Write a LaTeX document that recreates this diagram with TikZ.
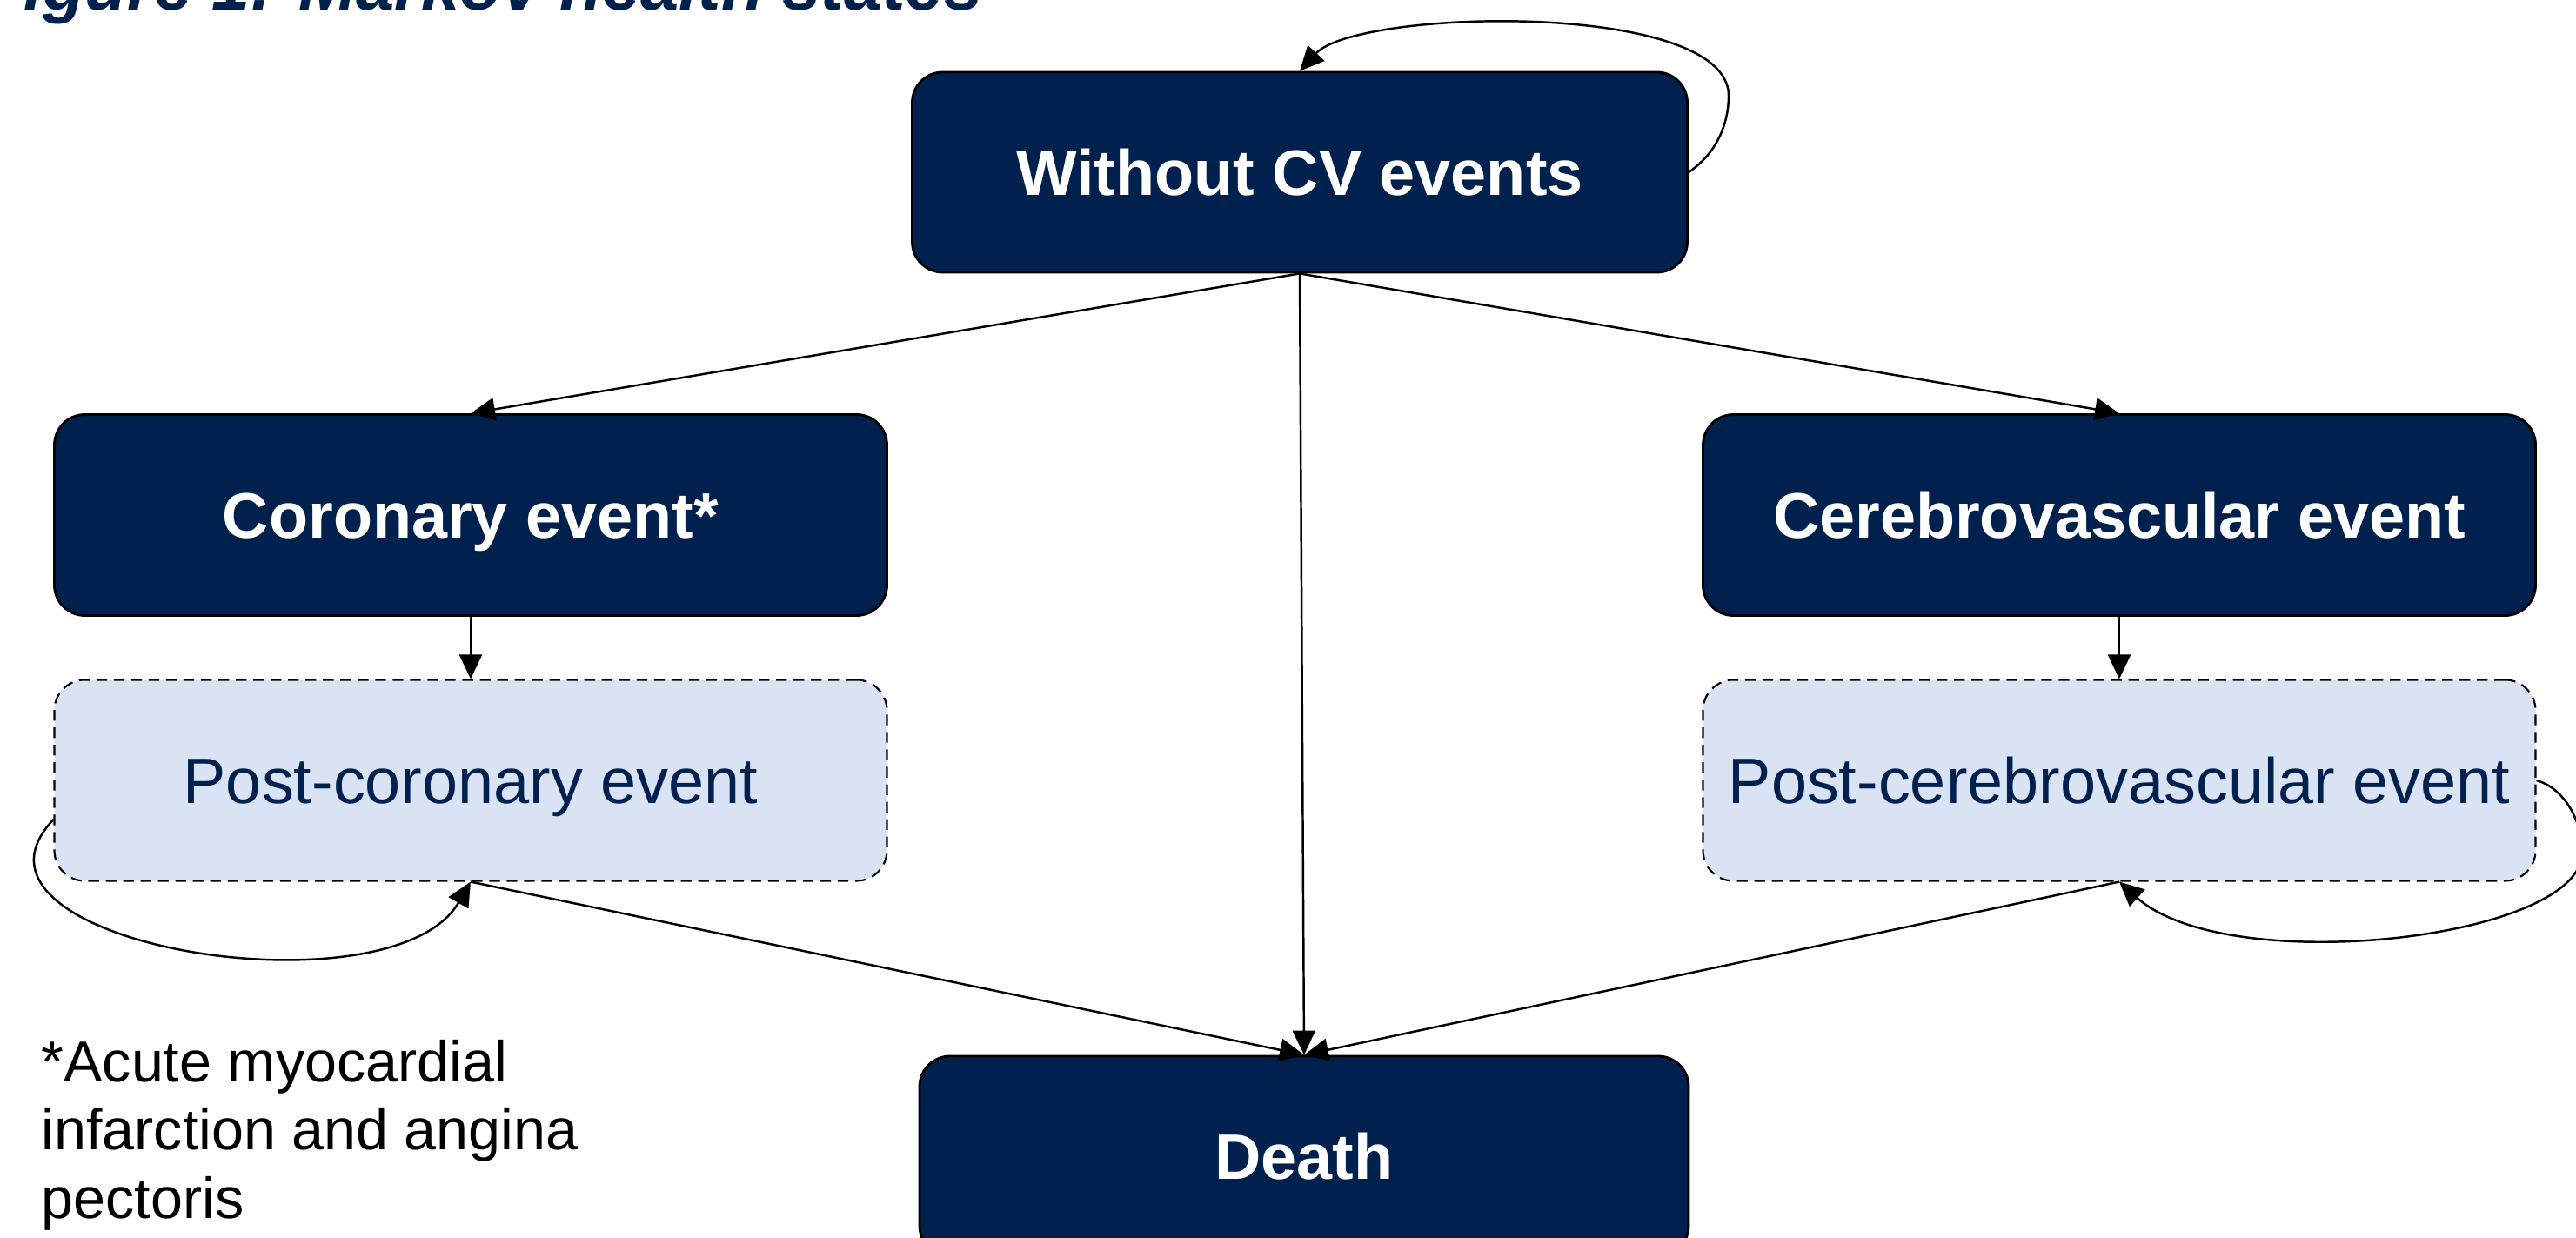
\documentclass[tikz,border=0pt]{standalone}
\usepackage{fontspec}
\setmainfont{Liberation Sans}
\usetikzlibrary{arrows.meta}
\definecolor{navy}{HTML}{00214E}
\definecolor{paleblue}{HTML}{DAE3F3}

\begin{document}
\begin{tikzpicture}[
  state/.style={draw=black, line width=0.8pt, fill=navy, rounded corners=0.35cm, text=white,
    font=\fontsize{21}{25}\selectfont\bfseries, inner sep=0pt, text height=15pt, text depth=0pt},
  poststate/.style={draw=black, line width=0.6pt, dash pattern=on 3.5pt off 2.2pt, fill=paleblue,
    rounded corners=0.35cm, text=navy, font=\fontsize{21}{25}\selectfont, inner sep=0pt,
    text height=15pt, text depth=0pt, minimum width=9.57cm, minimum height=2.31cm},
  trans/.style={draw, line width=0.7pt, -{Triangle[length=0.28cm,width=0.26cm]}}
]
\useasboundingbox (0,0) rectangle (29.61,-14.23);
\node[anchor=base west, text=navy, font=\fontsize{22.6}{27}\selectfont\bfseries\itshape, inner sep=0pt] (title) at (-0.22,-0.12) {Figure 1: Markov health states};
\node[state, minimum width=8.91cm, minimum height=2.30cm] (wcv) at (14.94,-1.98) {Without CV events};
\node[state, minimum width=9.57cm, minimum height=2.31cm] (cor) at (5.41,-5.92) {Coronary event*};
\node[state, minimum width=9.57cm, minimum height=2.31cm] (cer) at (24.36,-5.92) {Cerebrovascular event};
\node[poststate] (pcor) at (5.41,-8.97) {Post-coronary event};
\node[poststate] (pcer) at (24.36,-8.97) {Post-cerebrovascular event};
\node[state, minimum width=8.84cm, minimum height=2.30cm] (death) at (14.99,-13.29) {Death};
\node[anchor=base west, align=left, font=\fontsize{18.9}{22.3}\selectfont, inner sep=0pt] (note) at (0.47,-14.00) {*Acute myocardial\\infarction and angina\\pectoris};
\coordinate (wtop) at (19.87,-1.10);
\coordinate (ctop) at (29.68,-9.80);
\path[trans] (wcv.south) -- (cor.north);
\path[trans] (wcv.south) -- (cer.north);
\path[trans] (wcv.south) -- (death.north);
\path[trans] (cor.south) -- (pcor.north);
\path[trans] (cer.south) -- (pcer.north);
\path[trans] (pcor.south) -- (death.north);
\path[trans] (pcer.south) -- (death.north);
\path[trans] (wcv.east) .. controls (19.75,-1.75) and (19.87,-1.40) .. (wtop) .. controls (19.87,0) and (15.60,-0.10) .. (wcv.north);
\path[trans] ([yshift=-4.5mm]pcor.west) .. controls (-0.75,-10.85) and (4.50,-11.70) .. (pcor.south);
\path[trans] (pcer.east) .. controls (29.45,-9.05) and (29.68,-9.40) .. (ctop) .. controls (29.68,-10.80) and (25.60,-11.25) .. (pcer.south);
\end{tikzpicture}
\end{document}
